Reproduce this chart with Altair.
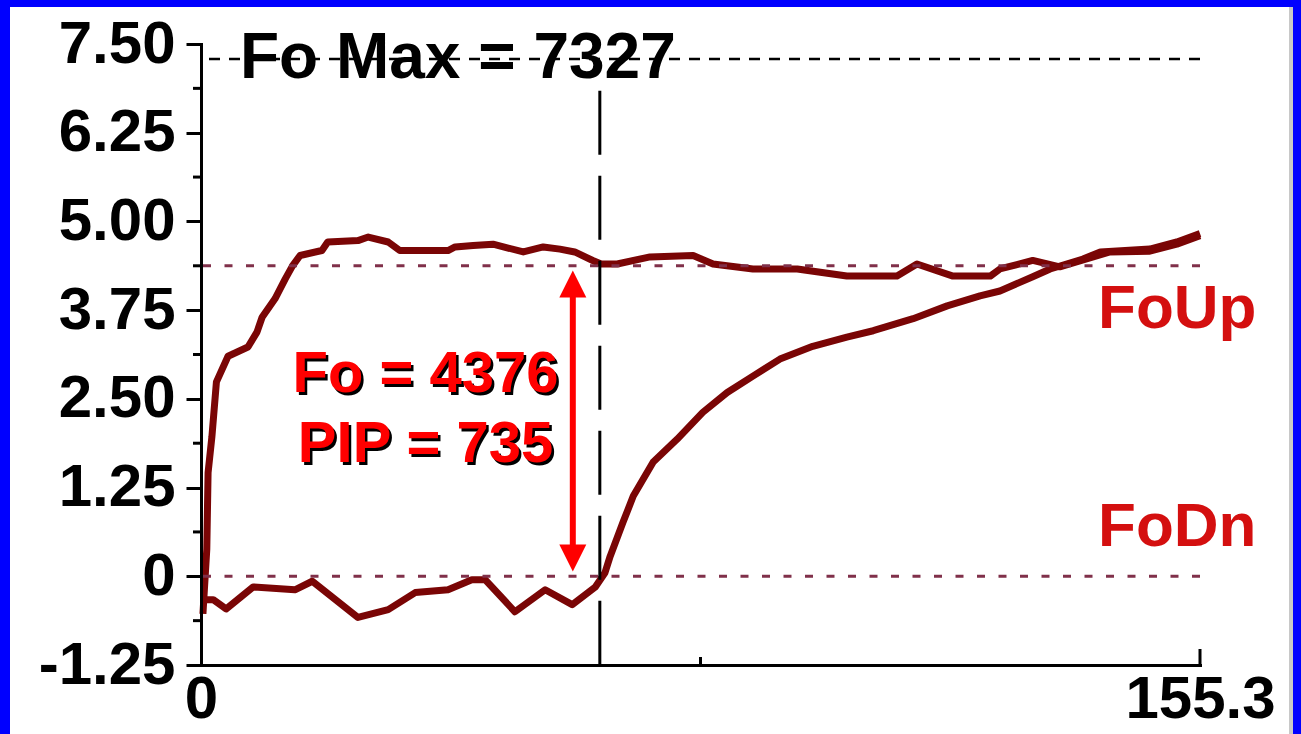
import json
import altair as alt
import pandas as pd

FONT = "Liberation Sans"

# ---- data ----
up_x = [0.3, 0.9, 1.1, 1.7, 2.4, 4.2, 7.3, 8.7, 9.5, 11.5, 13.1, 14.2, 15.4, 18.8, 19.7,
        24.4, 26.0, 29.1, 30.9, 38.4, 39.5, 42.3, 45.4, 50.1, 53.2, 55.8, 58.1, 60.9,
        62.2, 64.7, 69.8, 76.5, 79.6, 85.8, 92.7, 100.4, 108.2, 111.3, 116.9, 122.7,
        124.2, 129.3, 133.5, 138.7, 141.3, 147.5, 151.7, 155.3]
up_y = [-0.53, 0.38, 1.46, 1.97, 2.74, 3.10, 3.23, 3.44, 3.65, 3.91, 4.19, 4.37, 4.52, 4.59, 4.71,
        4.73, 4.78, 4.71, 4.59, 4.59, 4.64, 4.66, 4.68, 4.57, 4.64, 4.61, 4.57, 4.45,
        4.40, 4.40, 4.50, 4.52, 4.40, 4.33, 4.33, 4.23, 4.23, 4.40, 4.23, 4.23,
        4.33, 4.45, 4.36, 4.50, 4.57, 4.58, 4.68, 4.80]

dn_x = [0.3, 1.9, 3.9, 8.1, 14.6, 17.3, 24.4, 29.1, 33.3, 38.4, 42.1, 44.2, 48.8, 53.5,
        57.7, 61.3, 62.8, 63.6, 65.6, 67.2, 70.3, 74.0, 78.0, 81.8, 85.8, 90.0, 95.1,
        100.4, 104.5, 110.7, 116.0, 121.1, 124.2, 129.3, 132.0, 137.1, 139.8, 147.5,
        151.7, 155.3]
dn_y = [-0.33, -0.33, -0.46, -0.15, -0.19, -0.07, -0.58, -0.47, -0.23, -0.19, -0.05, -0.05, -0.50, -0.19,
        -0.40, -0.15, 0.05, 0.28, 0.76, 1.13, 1.61, 1.93, 2.31, 2.59, 2.82, 3.06, 3.24,
        3.37, 3.46, 3.63, 3.81, 3.95, 4.02, 4.22, 4.33, 4.47, 4.57, 4.61,
        4.71, 4.83]

y_ticks = [-1.25, 0, 1.25, 2.5, 3.75, 5.0, 6.25, 7.5]
y_labels = ["-1.25", "0", "1.25", "2.50", "3.75", "5.00", "6.25", "7.50"]
y_minor = [-0.625, 0.625, 1.875, 3.125, 4.375, 5.625, 6.875]
x_ticks = [0, 155.3]
x_labels = ["0", "155.3"]
x_minor = [77.65]
x_domain = [0, 155.3]
y_domain = [-1.25, 7.5]

fo_max_level = 7.29
fo_level = 4.376
dn_level = 0.0
cursor_x = 62.0
cursor_top = 6.84
arrow_x = 57.8
arrow_top = 4.12
arrow_bottom = 0.257

title_text = ["Fo Max = 7327"]
title_pos = [6.06, 7.29]
info_text = ["Fo = 4376", "PIP = 735"]
info_x = [34.9, 34.9]
info_y = [2.595, 1.606]
side_text = ["FoUp", "FoDn"]
side_x = [139.45, 139.45]
side_y = [3.50, 0.433]

# ---- styles ----
W, H = 999, 621
CURVE = "#7a0505"
DASHC = "#80304a"

xs = alt.Scale(domain=x_domain, nice=False, zero=False)
ys = alt.Scale(domain=y_domain, nice=False, zero=False)

x_axis = alt.Axis(values=x_ticks, title="", ticks=False, grid=False, domainColor="black",
                  domainWidth=3, domainCap="square", labelFont=FONT, labelFontWeight="bold",
                  labelFontSize=60, labelColor="black", labelPadding=5, labelAngle=0,
                  labelFlush=False, labelOverlap=False, labelBound=False,
                  labelExpr=f"{json.dumps(x_labels)}[indexof({json.dumps(x_ticks)}, datum.value)]",
                  zindex=1)
y_axis = alt.Axis(values=y_ticks, title="", grid=False, domainColor="black", domainWidth=3,
                  domainCap="square", tickColor="black", tickWidth=3, tickSize=15,
                  labelPadding=11, labelFont=FONT, labelFontWeight="bold", labelFontSize=60,
                  labelColor="black", labelFlush=False, labelOverlap=False, labelBound=False,
                  labelExpr=f"{json.dumps(y_labels)}[indexof({json.dumps(y_ticks)}, datum.value)]",
                  zindex=1)

X = lambda f="x": alt.X(f"{f}:Q", scale=xs, axis=x_axis)
Y = lambda f="y": alt.Y(f"{f}:Q", scale=ys, axis=y_axis)

one = pd.DataFrame({"a": [1]})

bg = alt.Chart(one).mark_rect(color="white").encode(
    x=alt.value(-191), x2=alt.value(1088), y=alt.value(-37), y2=alt.value(700))
edge = alt.Chart(one).mark_rect(color="#c8c8c8").encode(
    x=alt.value(1088), x2=alt.value(1092), y=alt.value(-37), y2=alt.value(700))

curves_df = pd.concat([
    pd.DataFrame({"x": up_x, "y": up_y, "s": "up", "i": range(len(up_x))}),
    pd.DataFrame({"x": dn_x, "y": dn_y, "s": "dn", "i": range(len(dn_x))}),
])
curves = alt.Chart(curves_df).mark_line(color=CURVE, strokeWidth=7, strokeJoin="round").encode(
    x=X(), y=Y(), detail="s:N", order="i:Q")

maxline = alt.Chart(pd.DataFrame({"y": [fo_max_level]})).mark_rule(
    color="black", strokeWidth=2.5, strokeDash=[11, 9]).encode(y=Y())
levels = alt.Chart(pd.DataFrame({"y": [fo_level, dn_level]})).mark_rule(
    color=DASHC, strokeWidth=3, strokeDash=[8, 13.5]).encode(y=Y())

cursor = alt.Chart(pd.DataFrame({"x": [cursor_x], "y": [cursor_top], "y2": [y_domain[0]]})).mark_rule(
    color="black", strokeWidth=3, strokeDash=[64, 21]).encode(x=X(), y=Y(), y2="y2:Q")

shaft = alt.Chart(pd.DataFrame({"x": [arrow_x], "y": [arrow_top], "y2": [arrow_bottom]})).mark_rule(
    color="#ff0000", strokeWidth=6).encode(x=X(), y=Y(), y2="y2:Q")
head_up = alt.Chart(pd.DataFrame({"x": [arrow_x], "y": [arrow_top]})).mark_point(
    shape="M0,-1L1,1L-1,1Z", filled=True, size=729, color="#ff0000", opacity=1, strokeWidth=0
).encode(x=X(), y=Y())
head_dn = alt.Chart(pd.DataFrame({"x": [arrow_x], "y": [arrow_bottom]})).mark_point(
    shape="M0,1L1,-1L-1,-1Z", filled=True, size=729, color="#ff0000", opacity=1, strokeWidth=0
).encode(x=X(), y=Y())

title_df = pd.DataFrame({"x": [title_pos[0]], "y": [title_pos[1]], "t": title_text})
title = alt.Chart(title_df).mark_text(
    align="left", baseline="middle", font=FONT, fontSize=64, fontWeight="bold", color="black"
).encode(x=X(), y=Y(), text="t:N")

info_df = pd.DataFrame({"x": info_x, "y": info_y, "t": info_text})
info_shadow = alt.Chart(info_df).mark_text(
    align="center", baseline="alphabetic", font=FONT, fontSize=58, fontWeight="bold",
    color="black", dx=2.5, dy=2.5).encode(x=X(), y=Y(), text="t:N")
info = alt.Chart(info_df).mark_text(
    align="center", baseline="alphabetic", font=FONT, fontSize=58, fontWeight="bold",
    color="#ff0000").encode(x=X(), y=Y(), text="t:N")

side_df = pd.DataFrame({"x": side_x, "y": side_y, "t": side_text})
side = alt.Chart(side_df).mark_text(
    align="left", baseline="alphabetic", font=FONT, fontSize=62, fontWeight="bold",
    color="#d40f0f").encode(x=X(), y=Y(), text="t:N")

yminor = alt.Chart(pd.DataFrame({"y": y_minor})).mark_rule(color="black", strokeWidth=3).encode(
    y=Y(), x=alt.value(-8), x2=alt.value(0))
xmajor = alt.Chart(pd.DataFrame({"x": x_ticks[1:]})).mark_rule(color="black", strokeWidth=3).encode(
    x=X(), y=alt.value(H - 16), y2=alt.value(H))
xminor = alt.Chart(pd.DataFrame({"x": x_minor})).mark_rule(color="black", strokeWidth=3).encode(
    x=X(), y=alt.value(H - 8), y2=alt.value(H))

chart = alt.layer(
    bg, edge, curves, maxline, levels, cursor, shaft, head_up, head_dn,
    title, info_shadow, info, side, yminor, xmajor, xminor
).properties(
    width=W, height=H, background="#0000ff",
    padding={"left": 201, "top": 44, "right": 101, "bottom": 69},
    autosize=alt.AutoSizeParams(type="none"),
).configure_view(stroke="transparent")

chart.save("out.html", embed_options={"renderer": "svg", "actions": False})
